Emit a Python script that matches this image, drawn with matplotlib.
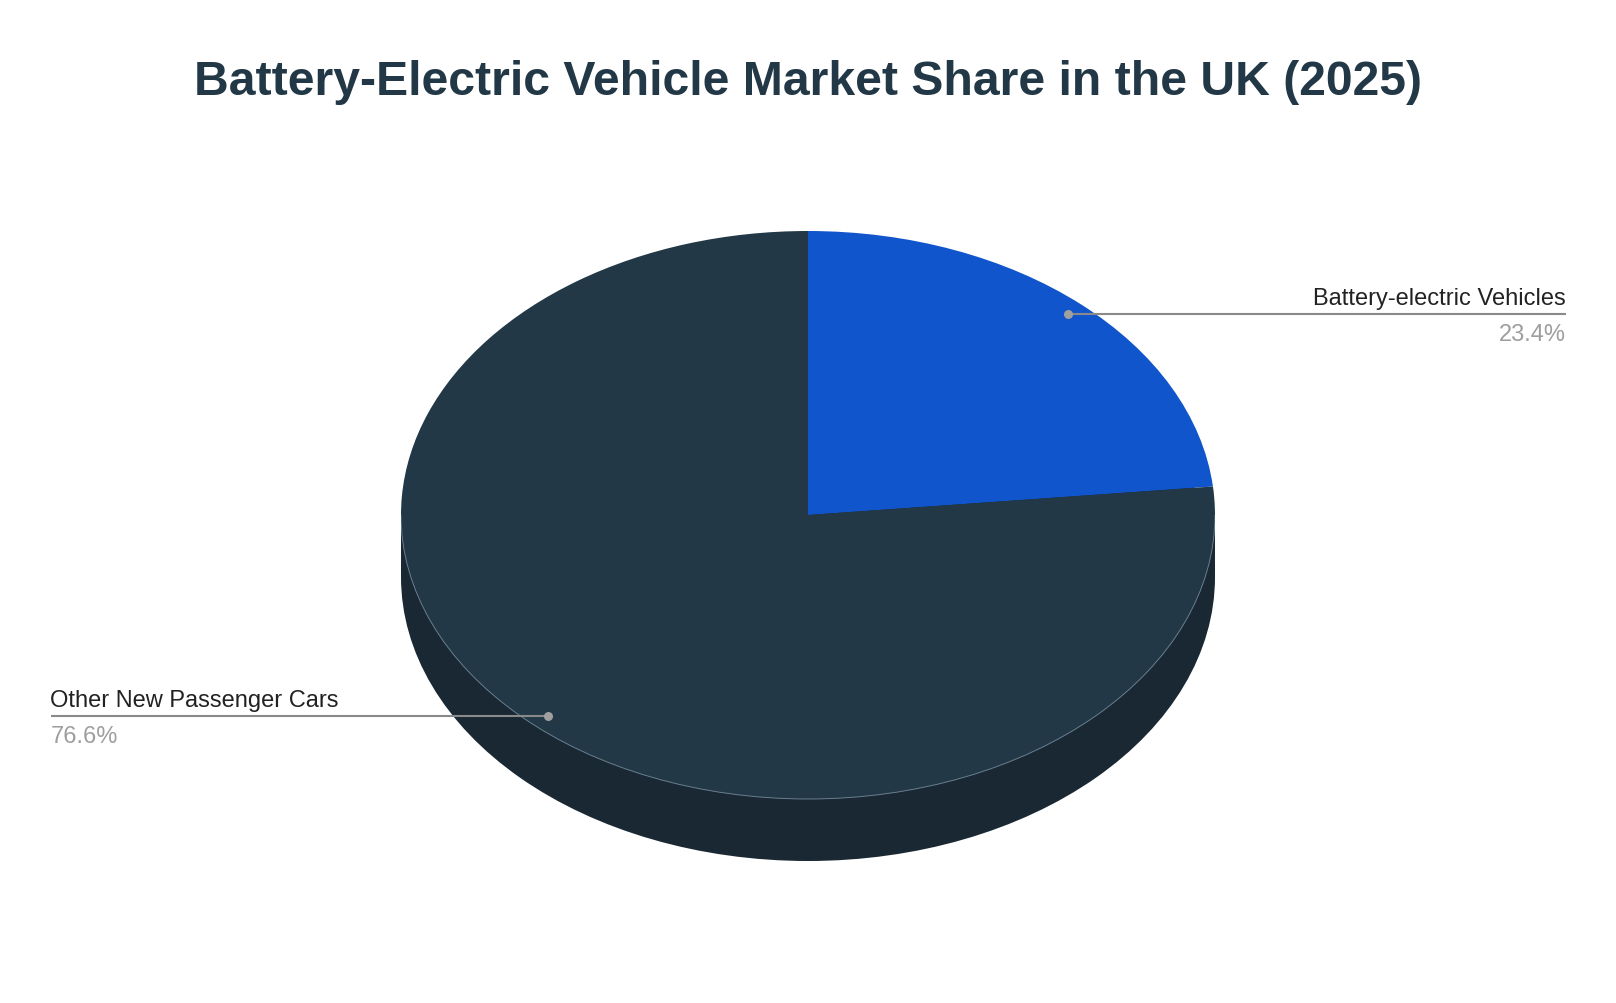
import numpy as np
import matplotlib
matplotlib.use("Agg")
import matplotlib.pyplot as plt
from matplotlib.patches import Ellipse, Rectangle, Arc

# ---- data ----
title = "Battery-Electric Vehicle Market Share in the UK (2025)"
categories = ["Battery-electric Vehicles", "Other New Passenger Cars"]
shares = [23.4, 76.6]

# ---- style ----
W, H = 1616, 1004
top_colors = ["#1155cc", "#223846"]
side_color = "#192833"
title_color = "#223846"
font = ["Liberation Sans", "DejaVu Sans"]

# pie geometry in pixels
cx, cy = 808.0, 516.0
a, b = 407.0, 284.0
depth = 62.0

fig = plt.figure(figsize=(W / 100, H / 100), dpi=100)
fig.patch.set_facecolor("white")

# pie axes: x in [-1,1] spans 2a px, y in [-1-d, 1] spans 2b+depth px
d = 2 * depth / (2 * b)
left = (cx - a) / W
width = 2 * a / W
bottom = 1 - (cy + b + depth) / H
height = (2 * b + depth) / H
pax = fig.add_axes([left, bottom, width, height])

# side (cylinder wall)
pax.add_patch(Ellipse((0, -d), 2, 2, facecolor=side_color, edgecolor="none", zorder=1))
pax.add_patch(Rectangle((-1, -d), 2, d, facecolor=side_color, edgecolor="none", zorder=1))

wedges, _ = pax.pie(shares, colors=top_colors, startangle=90, counterclock=False,
                    radius=1, wedgeprops=dict(linewidth=0, edgecolor="none"))
for w_ in wedges:
    w_.set_zorder(2)
pax.add_patch(Arc((0, 0), 2, 2, theta1=180, theta2=360, color="#6a7f8e", lw=0.7, zorder=3))
pax.set_aspect("auto")
pax.set_xlim(-1, 1)
pax.set_ylim(-1 - d, 1)
pax.axis("off")

# overlay axes in pixel coordinates
ax = fig.add_axes([0, 0, 1, 1])
ax.set_xlim(0, W)
ax.set_ylim(H, 0)
ax.axis("off")

ax.text(808, 95, title, ha="center", va="baseline", fontsize=34.7, fontweight="bold",
        color=title_color, family=font)

# label leaders
fracs = np.array(shares) / sum(shares)
starts = np.concatenate([[0], np.cumsum(fracs)[:-1]]) * 360
mids = starts + fracs * 180  # degrees clockwise from top
anchor_r = 0.953
text_x = [1566, 50.5]
for cat, val, m, tx in zip(categories, shares, mids, text_x):
    th = np.deg2rad(m)
    px = cx + anchor_r * a * np.sin(th)
    py = cy - anchor_r * b * np.cos(th)
    ha = "right" if px < tx else "left"
    ax.plot([px, tx], [py, py], color="#8a8a8a", lw=1.5, solid_capstyle="butt", zorder=5)
    ax.plot([px], [py], marker="o", ms=6.5, color="#a0a0a0", mec="none", zorder=6)
    ax.text(tx, py - 10, cat, ha=ha, va="baseline", fontsize=17, color="#222222", family=font)
    ax.text(tx, py + 26, f"{val:.1f}%", ha=ha, va="baseline", fontsize=17, color="#9e9e9e",
            family=font)

fig.savefig("out.png", dpi=100, facecolor="white")
